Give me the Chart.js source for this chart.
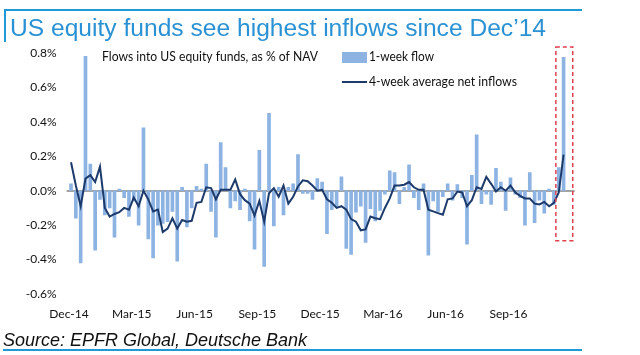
<!DOCTYPE html>
<html><head><meta charset="utf-8">
<script src="https://cdn.jsdelivr.net/npm/chart.js@4.4.1/dist/chart.umd.min.js"></script>
<style>
html,body{margin:0;padding:0;background:#fff;}
#wrap{position:relative;width:640px;height:355px;overflow:hidden;background:#fff;}
canvas{position:absolute;left:0;top:0;}
.t{position:absolute;white-space:nowrap;line-height:1;transform-origin:0 0;}
</style></head><body>
<div id="wrap">
<canvas id="c" width="640" height="355"></canvas>
<div style="position:absolute;left:4px;top:9px;width:578px;height:2px;background:#1f9ad6"></div>
<div style="position:absolute;left:4px;top:9px;width:2px;height:33px;background:#1f9ad6"></div>
<div class="t fit" data-w="536" style="left:10px;top:16px;font-family:'Liberation Sans',Arial,sans-serif;font-size:24.6px;color:#2a92d4;">US equity funds see highest inflows since Dec’14</div>
<div class="t fit" data-w="304" style="left:3px;top:331px;font-family:'Liberation Sans',Arial,sans-serif;font-style:italic;font-size:18px;color:#111;">Source: EPFR Global, Deutsche Bank</div>
<div style="position:absolute;left:3px;top:349px;width:579px;height:2px;background:#1f9ad6"></div>
</div>
<script>
// ---- data (% of NAV), weekly from early Dec-14 ----
const weekStart = '2014-12-03';
const tickLabels = ['Dec-14','Mar-15','Jun-15','Sep-15','Dec-15','Mar-16','Jun-16','Sep-16'];
const tickEvery = 13;
const weeklyFlow = [
  0.04,-0.16,-0.42,0.78,0.155,-0.345,-0.05,-0.14,-0.10,-0.27,
  0.01,-0.04,-0.15,-0.06,-0.20,0.365,-0.28,-0.39,-0.20,-0.19,
  -0.18,-0.12,-0.41,0.02,-0.21,-0.10,0.025,0.01,0.155,-0.12,
  -0.27,0.28,0.135,-0.10,-0.06,-0.11,0.01,-0.175,-0.34,0.235,
  -0.44,0.45,-0.205,0.02,-0.14,0.02,0.04,0.21,-0.015,-0.015,
  -0.05,0.07,0.05,-0.25,-0.11,-0.095,0.08,-0.335,-0.37,-0.125,
  -0.09,-0.30,-0.105,-0.175,-0.115,-0.02,0.115,0.105,-0.075,0.02,
  0.15,-0.04,-0.11,0.04,-0.375,-0.06,-0.12,-0.035,0.04,-0.055,
  0.035,-0.04,-0.31,0.09,0.325,-0.075,-0.02,-0.08,0.13,0.05,
  -0.115,0.075,-0.02,-0.04,-0.20,0.105,-0.185,-0.055,-0.13,0.01,
  -0.08,0.135,0.775
];
const avg4w = [
  0.165,0.03,-0.09,0.07,0.09,0.05,0.14,-0.10,-0.15,-0.135,
  -0.125,-0.10,-0.11,-0.04,-0.09,0.00,-0.05,-0.12,-0.11,-0.24,
  -0.22,-0.16,-0.22,-0.17,-0.18,-0.175,-0.07,-0.065,0.02,0.015,
  -0.05,0.005,0.005,0.005,0.065,-0.02,-0.055,-0.075,-0.145,-0.06,
  -0.18,-0.015,0.015,-0.035,0.03,-0.075,-0.035,0.025,0.06,0.055,
  0.03,0.00,0.005,-0.05,-0.07,-0.10,-0.09,-0.11,-0.165,-0.18,
  -0.23,-0.225,-0.15,-0.16,-0.165,-0.10,-0.045,0.03,0.03,0.035,
  0.05,0.02,0.005,0.005,-0.11,-0.12,-0.13,-0.14,-0.05,-0.045,
  -0.005,-0.01,-0.09,-0.055,0.02,0.01,0.08,0.04,-0.005,0.02,
  0.00,0.03,-0.01,-0.03,-0.045,-0.045,-0.075,-0.08,-0.065,-0.09,
  -0.07,-0.01,0.21
];
const highlight = {fromIdx:100.4, toIdx:103.9, top:0.835, bottom:-0.29};

// categories: one per week
const weeks = [];
{ const d0 = new Date(weekStart + 'T00:00:00Z');
  for (let i = 0; i < weeklyFlow.length; i++) {
    const d = new Date(d0.getTime() + i * 7 * 86400000);
    weeks.push(d.toISOString().slice(0,10));
  } }

const BAR = '#8db3e2', LINE = '#1c3a6b';

function fitText(ctx, txt, x, y, w, size) {
  ctx.font = size + 'px Lato, "Open Sans", sans-serif';
  const m = ctx.measureText(txt).width;
  ctx.save(); ctx.translate(x, y); ctx.scale(w / m, 1); ctx.fillText(txt, 0, 0); ctx.restore();
}

const decor = {
  id: 'decor',
  beforeDatasetsDraw(chart) {
    const {ctx, scales:{x, y}} = chart;
    const y0 = Math.round(y.getPixelForValue(0));
    ctx.save();
    ctx.strokeStyle = '#a3a3a3'; ctx.lineWidth = 2;
    ctx.beginPath();
    ctx.moveTo(x.getPixelForValue(-0.5) - 2, y0);
    ctx.lineTo(x.getPixelForValue(weeklyFlow.length + 1.3), y0);
    ctx.stroke();
    ctx.restore();
  },
  afterDatasetsDraw(chart) {
    const {ctx, scales:{x, y}} = chart;
    ctx.save();
    ctx.strokeStyle = '#e0414e'; ctx.lineWidth = 1.5; ctx.setLineDash([4, 3]);
    const x1 = x.getPixelForValue(highlight.fromIdx), x2 = x.getPixelForValue(highlight.toIdx);
    const y1 = y.getPixelForValue(highlight.top), y2 = y.getPixelForValue(highlight.bottom);
    ctx.strokeRect(x1, y1, x2 - x1, y2 - y1);
    ctx.restore();
  },
  afterDraw(chart) {
    const ctx = chart.ctx;
    ctx.save();
    ctx.fillStyle = '#111'; ctx.textBaseline = 'middle'; ctx.textAlign = 'left';
    fitText(ctx, 'Flows into US equity funds, as % of NAV', 102, 57, 216, 13);
    // legend
    ctx.fillStyle = BAR; ctx.fillRect(342, 52, 25, 11);
    ctx.strokeStyle = LINE; ctx.lineWidth = 2;
    ctx.beginPath(); ctx.moveTo(342, 82); ctx.lineTo(367, 82); ctx.stroke();
    ctx.fillStyle = '#111';
    fitText(ctx, '1-week flow', 369, 57, 65, 13);
    fitText(ctx, '4-week average net inflows', 369, 82, 148, 13);
    ctx.restore();
  }
};

new Chart(document.getElementById('c'), {
  type: 'bar',
  data: {
    labels: weeks,
    datasets: [
      {type:'line', label:'4-week average net inflows', data: avg4w, borderColor: LINE, borderWidth: 2,
       pointRadius: 0, tension: 0, fill: false, order: 0},
      {type:'bar', label:'1-week flow', data: weeklyFlow, backgroundColor: BAR, barThickness: 3, order: 1}
    ]
  },
  options: {
    responsive: false, animation: false, devicePixelRatio: 1,
    layout: {padding: {left: 0, right: 74, top: 53, bottom: 0}},
    plugins: {legend: {display: false}, tooltip: {enabled: false}, title: {display: false}},
    scales: {
      x: {
        grid: {display: false, drawTicks: false}, border: {display: false},
        afterFit(s) { s.height = 61; },
        ticks: {
          autoSkip: false, maxRotation: 0, minRotation: 0, padding: 13, labelOffset: -2,
          color: '#111', font: {family: 'Lato, "Open Sans", sans-serif', size: 12},
          callback(v, i) { return i % tickEvery === 0 ? (tickLabels[i / tickEvery] || '') : ''; }
        }
      },
      y: {
        min: -0.6, max: 0.8,
        grid: {display: false, drawTicks: false}, border: {display: false},
        afterFit(s) { s.width = 68.6; },
        ticks: {
          stepSize: 0.2, padding: 12, color: '#111',
          font: {family: 'Lato, "Open Sans", sans-serif', size: 12},
          callback(v) { const r = Math.round(v * 10) / 10; return (Math.abs(r) < 1e-9 ? 0 : r).toFixed(1) + '%'; }
        }
      }
    }
  },
  plugins: [decor]
});

// fit HTML text to measured widths
document.querySelectorAll('.fit').forEach(el => {
  const w = el.getBoundingClientRect().width;
  el.style.transform = 'scaleX(' + (parseFloat(el.dataset.w) / w) + ')';
});
</script>
</body></html>
